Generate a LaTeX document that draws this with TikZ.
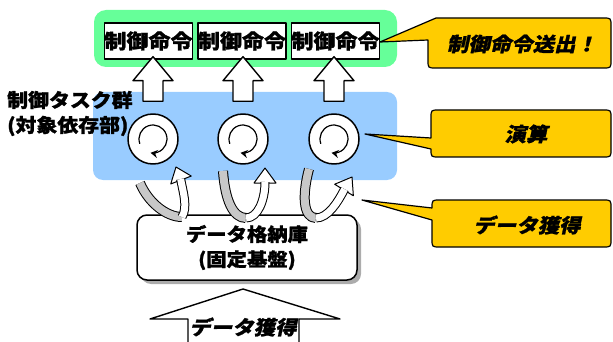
\documentclass[tikz,border=0pt]{standalone}
\usepackage{fontspec}
\setmainfont{Noto Sans CJK JP}[FakeStretch=1.1,FakeBold=1.2]
\newfontfamily\jpsl{Noto Sans CJK JP}[FakeSlant=0.22,FakeStretch=1.1,FakeBold=1.2]
\usetikzlibrary{calc,arrows.meta,shadows}
\definecolor{greenbg}{HTML}{66FF99}
\definecolor{bluebg}{HTML}{99CCFF}
\definecolor{callY}{HTML}{FFCC00}
\definecolor{stripgray}{HTML}{C8C8C8}
\newcommand\blockup[2]{%
  \draw[blockarr] let \p1=(#1.north), \p2=(#2.south) in
   (\x1-10pt,\y1+12pt) -- (\x1-10pt,\y2-21pt) -- (\x1-20pt,\y2-21pt) -- (\x1,\y2+3pt)
   -- (\x1+20pt,\y2-21pt) -- (\x1+10pt,\y2-21pt) -- (\x1+10pt,\y1+12pt) -- cycle;}
\begin{document}
\begin{tikzpicture}[x=1pt,y=-1pt,line join=round,
  area/.style={inner sep=0pt,draw=none},
  cmdbox/.style={draw,fill=white,line width=1.4pt,minimum width=85pt,minimum height=36pt,inner sep=0pt,
    font=\bfseries\fontsize{20}{20}\selectfont},
  task/.style={circle,draw,fill=white,line width=1.5pt,minimum size=50pt,inner sep=0pt},
  spin/.style={line width=1.2pt,-{Stealth[length=7pt,width=8pt]}},
  blockarr/.style={draw,fill=white,line width=1.4pt},
  callout/.style={draw,fill=callY,line width=1.2pt},
  calltext/.style={font=\jpsl\bfseries\fontsize{19.5}{19.5}\selectfont},
  graystrip/.style={draw=black,line width=1pt,double=stripgray,double distance=8pt},
  whitestrip/.style={draw=black,line width=1pt,double=white,double distance=7pt},
  headtri/.style={draw,fill=white,line width=1pt},
  store/.style={draw,fill=white,line width=1.5pt,rounded corners=10pt,minimum width=220pt,minimum height=65pt,
    align=center,font=\bfseries\fontsize{18.5}{25}\selectfont,
    drop shadow={shadow xshift=4pt,shadow yshift=-4pt,fill=gray!65,opacity=1}},
  lbl/.style={font=\bfseries\fontsize{19}{25}\selectfont,align=left,inner sep=0pt}]
\useasboundingbox (0,0) rectangle (613,342);
% background areas
\node[area,fill=greenbg,rounded corners=12pt,minimum width=303pt,minimum height=57pt] (cmdarea) at (245.5,38.5) {};
\node[area,fill=bluebg,rounded corners=10pt,minimum width=304pt,minimum height=88pt] (taskarea) at (245,136) {};
% command boxes
\node[cmdbox] (cmd1) at (148.5,41) {制御命令};
\node[cmdbox] (cmd2) at (242,41) {制御命令};
\node[cmdbox] (cmd3) at (335.5,41) {制御命令};
% left label
\node[lbl,anchor=west] (tasklbl) at (7,113.5) {制御タスク群\\(対象依存部)};
% task circles
\node[task] (c1) at (153,139) {};
\node[task] (c2) at (243,139) {};
\node[task] (c3) at (334,139) {};
\foreach \c in {c1,c2,c3}
  \draw[spin] ([shift={(200:14pt)}]\c.center) arc[start angle=200,end angle=-100,radius=14pt];
% block arrows up
\blockup{c1}{cmd1}
\blockup{c2}{cmd2}
\blockup{c3}{cmd3}
% callouts
\draw[callout] (436,18) -- (603,18) .. controls (611,18) .. (611,26) -- (611,60) .. controls (611,68) .. (603,68)
  -- (436,68) .. controls (428,68) .. (428,60) -- (428,40) -- (380,42) -- cycle;
\node[calltext] (t1) at (522,44) {制御命令送出！};
\draw[callout] (431,138) -- (431,118) .. controls (431,110) .. (439,110) -- (603,110) .. controls (611,110) .. (611,118)
  -- (611,149) .. controls (611,157) .. (603,157) -- (439,157) .. controls (431,157) .. (431,149) -- (365,134) -- cycle;
\node[calltext] (t2) at (526,134) {演算};
\draw[callout] (362,200) -- (432,208) .. controls (432,200) .. (440,200) -- (603,200) .. controls (611,200) .. (611,208)
  -- (611,239) .. controls (611,247) .. (603,247) -- (440,247) .. controls (432,247) .. (432,239) -- (432,220) -- cycle;
\node[calltext] (t3) at (527,225) {データ獲得};
% storage
\node[store] (store) at (247,247.5) {データ格納庫\\(固定基盤)};
% U-turn arrows
\coordinate (s1) at (140,183); \coordinate (b1) at (182,217); \coordinate (h1) at (181,180); \coordinate (e1) at (176,167);
\coordinate (s2) at (223,171); \coordinate (b2) at (246,218); \coordinate (h2) at (265,183); \coordinate (e2) at (265,168);
\coordinate (s3) at (309,169); \coordinate (b3) at (316,218); \coordinate (h3) at (344,190); \coordinate (e3) at (352,177);
\draw[graystrip] (s1) .. controls (148,202) and (166,217) .. (b1);
\draw[headtri] (e1) -- ($(h1)!11pt!90:(e1)$) -- ($(h1)!11pt!-90:(e1)$) -- cycle;
\draw[whitestrip] (b1) .. controls (188,207) and (183,192) .. ($(h1)!1pt!(e1)$);
\draw[graystrip] (s2) .. controls (225,200) and (233,218) .. (b2);
\draw[headtri] (e2) -- ($(h2)!11pt!90:(e2)$) -- ($(h2)!11pt!-90:(e2)$) -- cycle;
\draw[whitestrip] (b2) .. controls (258,218) and (265,200) .. ($(h2)!1pt!(e2)$);
\draw[graystrip] (s3) .. controls (302,195) and (303,218) .. (b3);
\draw[headtri] (e3) -- ($(h3)!11pt!90:(e3)$) -- ($(h3)!11pt!-90:(e3)$) -- cycle;
\draw[whitestrip] (b3) .. controls (328,218) and (338,202) .. ($(h3)!1pt!(e3)$);
% bottom input arrow
\draw[blockarr] (188,352) -- (188,319) -- (150,319) -- (243,289) -- (340,319) -- (299,319) -- (299,352) -- cycle;
\node[calltext] (acq) at (243,327) {データ獲得};
\end{tikzpicture}
\end{document}
